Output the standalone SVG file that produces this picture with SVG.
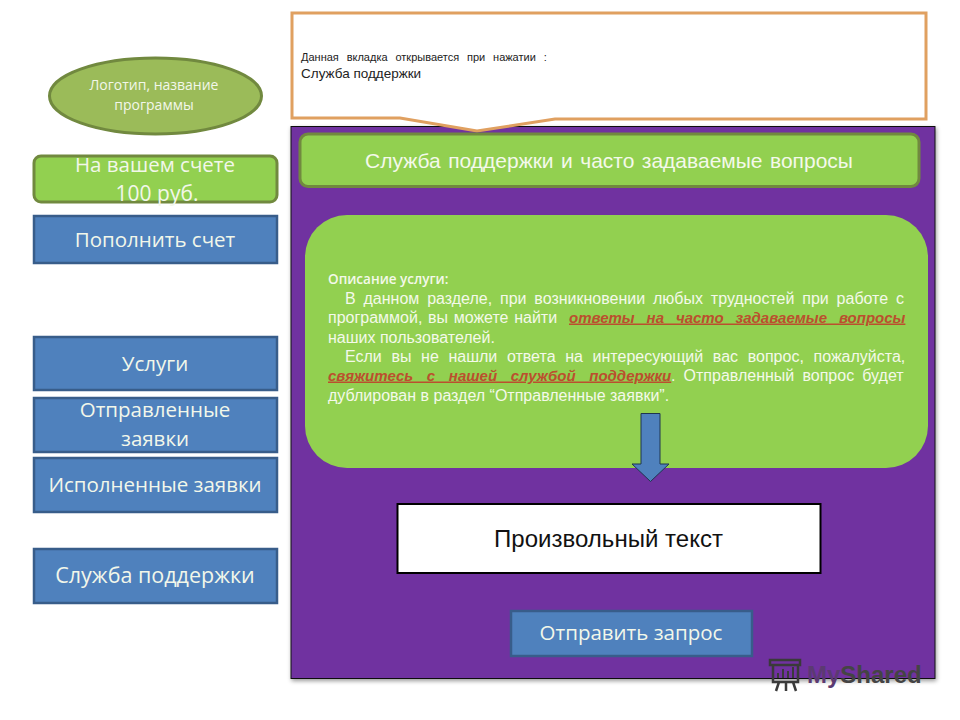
<svg xmlns="http://www.w3.org/2000/svg" width="960" height="720" viewBox="0 0 960 720">
<defs>
<style>
.s{font-family:"Liberation Sans",Arial,sans-serif}
.c{font-family:"Open Sans","Noto Sans",sans-serif;fill:#f2f7ea;text-anchor:middle}
.b{fill:#4f81bd;stroke:#385d8a;stroke-width:2.500}
.g{fill:#92d050;stroke:#71893f;stroke-width:3}
.t{font-family:"Liberation Sans",Arial,sans-serif;font-size:16px;fill:#f4f9ea}
.l{font-family:"Liberation Sans",Arial,sans-serif;font-size:15px;font-style:italic;font-weight:bold;fill:#bb4f2e;text-decoration:underline}
</style>
<filter id="sh" x="-2%" y="-2%" width="104%" height="104%"><feDropShadow dx="1" dy="2" stdDeviation="2" flood-color="#000" flood-opacity=".4"/></filter>
</defs>
<rect width="960" height="720" fill="#fff"/>
<g id="panel"><rect x="291" y="126.500" width="644" height="552" fill="#7030a0" stroke="#111" stroke-width="1" filter="url(#sh)"/></g>
<g id="callout">
<path d="M292 13H926V119H555L477 131L400 118H292Z" fill="#fff" stroke="#e0a060" stroke-width="3"/>
<text class="s" x="301" y="61" font-size="11" fill="#222" word-spacing="4.800">Данная вкладка открывается при нажатии :</text>
<text class="s" x="301" y="78" font-size="13.500" fill="#222">Служба поддержки</text>
</g>
<g id="logo"><ellipse cx="155.500" cy="96" rx="106" ry="38" fill="#9bbb59" stroke="#71893f" stroke-width="3"/>
<text class="c" x="154" y="90" font-size="14">Логотип, название</text><text class="c" x="154" y="110" font-size="14">программы</text></g>
<g id="balance"><rect class="g" x="34" y="156" width="243" height="46" rx="7"/>
<text class="c" x="155" y="172" font-size="20.500">На вашем счете</text><text class="c" x="157" y="201" font-size="21">100 руб.</text></g>
<g id="topup"><rect class="b" x="34" y="216" width="243" height="47"/><text class="c" x="155" y="247" font-size="20.500">Пополнить счет</text></g>
<g id="services"><rect class="b" x="34" y="337" width="243" height="53"/><text class="c" x="155" y="371" font-size="20.500">Услуги</text></g>
<g id="sent"><rect class="b" x="34" y="398" width="243" height="54"/><text class="c" x="155" y="417" font-size="20.500">Отправленные</text><text class="c" x="155" y="446" font-size="20.500">заявки</text></g>
<g id="done"><rect class="b" x="34" y="458" width="243" height="54"/><text class="c" x="155" y="492" font-size="20.500">Исполненные заявки</text></g>
<g id="support"><rect class="b" x="34" y="549" width="243" height="54"/><text class="c" x="155" y="583" font-size="21.500">Служба поддержки</text></g>
<g id="header"><rect class="g" x="300" y="134" width="619" height="52.500" rx="8" stroke="#6b7f55"/>
<text class="s" x="609" y="168" font-size="21" fill="#f4f9ea" text-anchor="middle" word-spacing="1.600">Служба поддержки и часто задаваемые вопросы</text></g>
<g id="description"><rect x="305" y="215" width="623" height="253" rx="42" fill="#92d050"/>
<text x="328" y="284" font-family="Open Sans,Noto Sans,sans-serif" font-size="13.500" font-weight="600" fill="#f4f9ea">Описание услуги:</text>
<text class="t" x="345" y="303.500" word-spacing="3.400">В данном разделе, при возникновении любых трудностей при работе с</text>
<text class="t" x="328" y="322.500" word-spacing="1.200">программой, вы можете найти</text>
<text class="l" x="569" y="322.500" word-spacing="7.750">ответы на часто задаваемые вопросы</text>
<text class="t" x="328" y="342.500">наших пользователей.</text>
<text class="t" x="345" y="361.500" word-spacing="5.200">Если вы не нашли ответа на интересующий вас вопрос, пожалуйста,</text>
<text class="l" x="328" y="380.500" word-spacing="9.500">свяжитесь с нашей службой поддержки</text>
<text class="t" x="671" y="380.500" word-spacing="3.700">. Отправленный вопрос будет</text>
<text class="t" x="328" y="400.500">дублирован в раздел “Отправленные заявки”.</text>
</g>
<g id="connectors"><path d="M641 413.500H660V464H669L650.500 481.500L632 464H641Z" fill="#4f81bd" stroke="#1f3550" stroke-width="1"/></g>
<g id="freetext"><rect x="397.500" y="504" width="423" height="69" fill="#fff" stroke="#000" stroke-width="2"/>
<text class="s" x="608.500" y="546.500" font-size="24" fill="#111" text-anchor="middle" textLength="229">Произвольный текст</text></g>
<g id="send"><rect class="b" x="511" y="611" width="241" height="45"/><text class="c" x="631" y="640" font-size="20.500">Отправить запрос</text></g>
<g id="watermark"><path d="M770 660H800V665H770ZM773 665V682H798V665M779 682L776 691M786 682V691M793 682L796 691" fill="none" stroke="#3a3a3a" stroke-width="2.500"/><path d="M778 678V673M783 678V669M788 678V671M793 678V667" stroke="#3a3a3a" stroke-width="2"/>
<text class="s" x="807" y="683" font-size="24" fill="#5b3a72" font-weight="bold">My<tspan fill="#444">Shared</tspan></text></g>
</svg>
